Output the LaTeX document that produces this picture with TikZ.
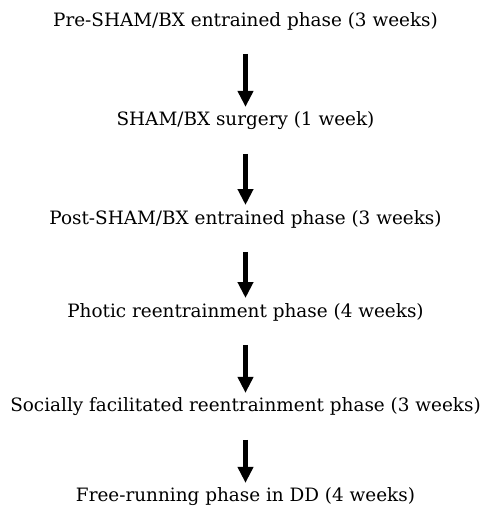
\documentclass[tikz,border=0pt]{standalone}
\usepackage{xcolor}
\usepackage{fontspec}
\setmainfont{DejaVu Serif}
\usepackage{tikz}
\usetikzlibrary{arrows.meta}

\begin{document}
\begin{tikzpicture}
\tikzstyle{arrow} = [line width=4.5pt,-{Triangle[width=15pt,length=16pt]},shorten <=24pt,shorten >=5pt]
\tikzstyle{phase} = [inner sep=0, outer sep=0, font=\fontsize{18.4}{22}\selectfont]

\useasboundingbox (0,0) rectangle (485pt,-514pt);

\node(pre)[phase, anchor=base] at (245.5pt,-26pt) {Pre-SHAM/BX entrained phase (3 weeks)};
\node(surgery)[phase, below of=pre, node distance=100pt]{SHAM/BX surgery (1 week)};
\node(post)[phase, below of=surgery, node distance=98pt]{Post-SHAM/BX entrained phase (3 weeks)};
\node(photic)[phase, below of=post, node distance=93pt]{Photic reentrainment phase (4 weeks)};
\node(social)[phase, below of=photic, node distance=95pt]{Socially facilitated reentrainment phase (3 weeks)};
\node(dd)[phase, below of=social, node distance=90pt]{Free-running phase in DD (4 weeks)};

\draw [arrow] (pre) -- (surgery);
\draw [arrow] (surgery) -- (post);
\draw [arrow] (post) -- (photic);
\draw [arrow] (photic) -- (social);
\draw [arrow] (social) -- (dd);
\end{tikzpicture}
\end{document}
